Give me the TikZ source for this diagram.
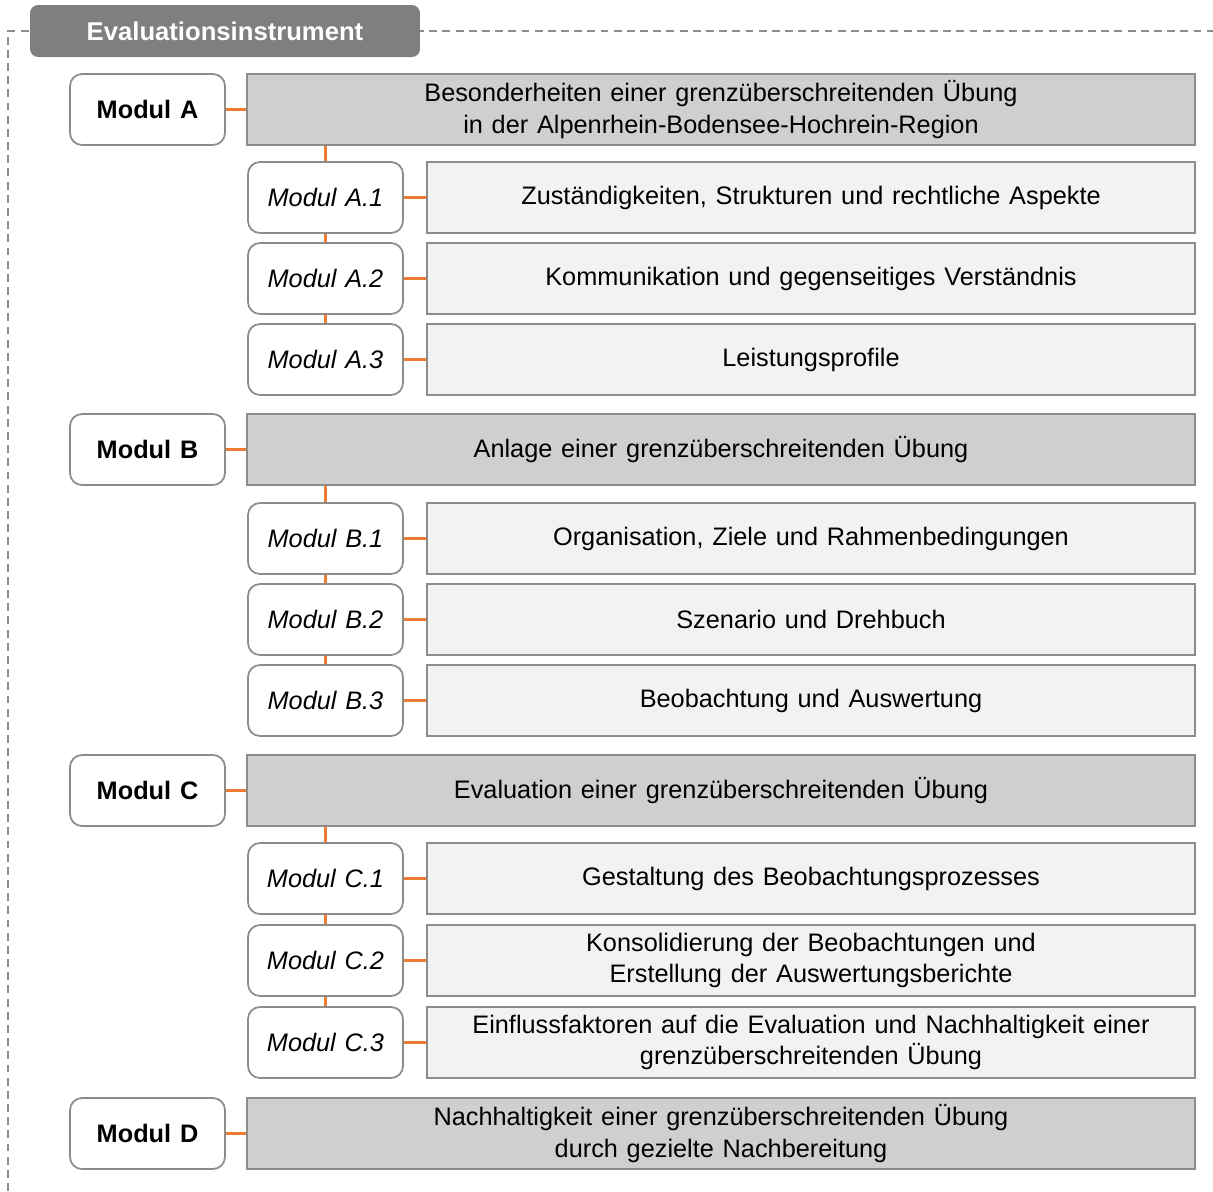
\documentclass[tikz,border=0pt]{standalone}
\usepackage{fontspec}
\setmainfont[WordSpace={1.25,1,1}]{Liberation Sans}
\usetikzlibrary{positioning}
\definecolor{linegray}{HTML}{8C8C8C}
\definecolor{maingray}{HTML}{D0CECE}
\definecolor{subgray}{HTML}{F2F2F2}
\definecolor{headgray}{HTML}{7F7F7F}
\definecolor{linkorange}{HTML}{ED7D31}
\begin{document}
\begin{tikzpicture}[x=0.02cm,y=-0.02cm,
  every node/.style={font=\fontsize{14.4}{18}\selectfont,align=center,inner sep=0pt},
  modbox/.style={draw=linegray,line width=1pt,rounded corners=0.24cm,fill=white,minimum width=3.1cm,minimum height=1.42cm,font=\fontsize{14.4}{18}\selectfont\bfseries},
  submod/.style={modbox,font=\fontsize{14.4}{18}\selectfont\itshape},
  mainbox/.style={draw=linegray,line width=1pt,fill=maingray,minimum width=18.96cm,minimum height=1.42cm},
  subbox/.style={draw=linegray,line width=1pt,fill=subgray,minimum width=15.36cm,minimum height=1.42cm},
  header/.style={fill=headgray,rounded corners=0.16cm,minimum width=7.8cm,minimum height=1.04cm,text=white,font=\fontsize{14.6}{18}\selectfont\bfseries},
  frame/.style={draw=linegray,line width=0.8pt,dash pattern=on 4.5pt off 3pt},
  link/.style={draw=linkorange,line width=1.6pt}]
\useasboundingbox (0,0) rectangle (1213,1191);
% frame and title
\draw[frame] (8,1191) -- (8,31) -- (1213,31);
\node[header] (hd) at (225,31) {Evaluationsinstrument};

% Modul A
\node[modbox] (mA) at (147.5,109.5) {Modul A};
\node[mainbox] (tA) at (721,109.5) {Besonderheiten einer grenzüberschreitenden Übung\\in der Alpenrhein-Bodensee-Hochrein-Region};
\node[submod] (mA1) at (325.5,197.5) {Modul A.1};
\node[subbox] (tA1) at (811,197.5) {Zuständigkeiten, Strukturen und rechtliche Aspekte};
\node[submod] (mA2) at (325.5,278.5) {Modul A.2};
\node[subbox] (tA2) at (811,278.5) {Kommunikation und gegenseitiges Verständnis};
\node[submod] (mA3) at (325.5,359.5) {Modul A.3};
\node[subbox] (tA3) at (811,359.5) {Leistungsprofile};

% Modul B
\node[modbox] (mB) at (147.5,449.5) {Modul B};
\node[mainbox] (tB) at (721,449.5) {Anlage einer grenzüberschreitenden Übung};
\node[submod] (mB1) at (325.5,538.5) {Modul B.1};
\node[subbox] (tB1) at (811,538.5) {Organisation, Ziele und Rahmenbedingungen};
\node[submod] (mB2) at (325.5,619.5) {Modul B.2};
\node[subbox] (tB2) at (811,619.5) {Szenario und Drehbuch};
\node[submod] (mB3) at (325.5,700.5) {Modul B.3};
\node[subbox] (tB3) at (811,700.5) {Beobachtung und Auswertung};

% Modul C
\node[modbox] (mC) at (147.5,790.5) {Modul C};
\node[mainbox] (tC) at (721,790.5) {Evaluation einer grenzüberschreitenden Übung};
\node[submod] (mC1) at (325.5,878.5) {Modul C.1};
\node[subbox] (tC1) at (811,878.5) {Gestaltung des Beobachtungsprozesses};
\node[submod] (mC2) at (325.5,960.5) {Modul C.2};
\node[subbox] (tC2) at (811,960.5) {Konsolidierung der Beobachtungen und\\Erstellung der Auswertungsberichte};
\node[submod] (mC3) at (325.5,1042.5) {Modul C.3};
\node[subbox] (tC3) at (811,1042.5) {Einflussfaktoren auf die Evaluation und Nachhaltigkeit einer\\grenzüberschreitenden Übung};

% Modul D
\node[modbox] (mD) at (147.5,1133.5) {Modul D};
\node[mainbox] (tD) at (721,1133.5) {Nachhaltigkeit einer grenzüberschreitenden Übung\\durch gezielte Nachbereitung};

% links
\draw[link] (mA) -- (tA);
\draw[link] (mA1) -- (tA1);
\draw[link] (mA2) -- (tA2);
\draw[link] (mA3) -- (tA3);
\draw[link] (tA.south -| mA1.north) -- (mA1.north);
\draw[link] (mA1) -- (mA2);
\draw[link] (mA2) -- (mA3);
\draw[link] (mB) -- (tB);
\draw[link] (mB1) -- (tB1);
\draw[link] (mB2) -- (tB2);
\draw[link] (mB3) -- (tB3);
\draw[link] (tB.south -| mB1.north) -- (mB1.north);
\draw[link] (mB1) -- (mB2);
\draw[link] (mB2) -- (mB3);
\draw[link] (mC) -- (tC);
\draw[link] (mC1) -- (tC1);
\draw[link] (mC2) -- (tC2);
\draw[link] (mC3) -- (tC3);
\draw[link] (tC.south -| mC1.north) -- (mC1.north);
\draw[link] (mC1) -- (mC2);
\draw[link] (mC2) -- (mC3);
\draw[link] (mD) -- (tD);
\end{tikzpicture}
\end{document}
